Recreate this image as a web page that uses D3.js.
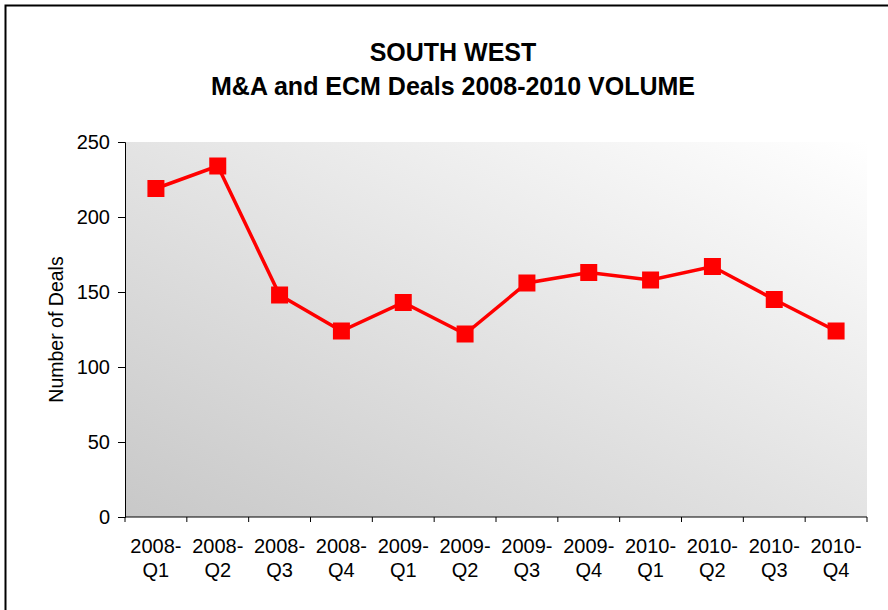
<!DOCTYPE html>
<html>
<head>
<meta charset="utf-8">
<script src="https://cdn.jsdelivr.net/npm/d3@7"></script>
<style>
  body { margin: 0; background: #fff; }
  text { font-family: "Liberation Sans", Arial, sans-serif; fill: #000; }
</style>
</head>
<body>
<div id="chart-area"></div>
<script>
var quarters = ["2008-Q1", "2008-Q2", "2008-Q3", "2008-Q4",
                "2009-Q1", "2009-Q2", "2009-Q3", "2009-Q4",
                "2010-Q1", "2010-Q2", "2010-Q3", "2010-Q4"];
var deals = [219, 234, 148, 124, 143, 122, 156, 163, 158, 167, 145, 124];
var yTicks = [0, 50, 100, 150, 200, 250];

var W = 888, H = 610;
var margin = { top: 142, right: 21, bottom: 93, left: 125 },
    width = W - margin.left - margin.right,
    height = H - margin.top - margin.bottom;

var svg = d3.select("#chart-area")
    .append("svg")
    .attr("width", W)
    .attr("height", H);

// outer chart frame
svg.append("rect")
    .attr("x", 5.5).attr("y", 5.5)
    .attr("width", W + 20).attr("height", H + 20)
    .attr("fill", "none")
    .attr("stroke", "#000")
    .attr("stroke-width", 2);

var grad = svg.append("defs").append("linearGradient")
    .attr("id", "bg")
    .attr("x1", 0).attr("y1", 1)
    .attr("x2", 1).attr("y2", 0);
grad.append("stop").attr("offset", "0%").attr("stop-color", "#c8c8c8");
grad.append("stop").attr("offset", "100%").attr("stop-color", "#ffffff");

// title
var tx = 453;
var title = svg.append("text")
    .attr("text-anchor", "middle")
    .style("font-weight", "bold")
    .style("font-size", "25px");
title.append("tspan").attr("x", tx).attr("y", 61).text("SOUTH WEST");
title.append("tspan").attr("x", tx).attr("y", 95).text("M&A and ECM Deals 2008-2010 VOLUME");

var g = svg.append("g")
    .attr("transform", "translate(" + margin.left + "," + margin.top + ")");

g.append("rect")
    .attr("width", width)
    .attr("height", height)
    .attr("fill", "url(#bg)");

var x = d3.scaleBand()
    .domain(quarters)
    .range([0, width]);

var y = d3.scaleLinear()
    .domain([0, 250])
    .range([height, 0]);

// y axis
var yAxis = g.append("g")
    .call(d3.axisLeft(y).tickValues(yTicks).tickSize(7).tickPadding(8));
yAxis.select(".domain").attr("stroke", "#000");
yAxis.selectAll("text").style("font-size", "20px");

// x axis with ticks at band boundaries
var xAxis = g.append("g")
    .attr("transform", "translate(0," + height + ")");
xAxis.append("line")
    .attr("x1", 0).attr("x2", width)
    .attr("stroke", "#000");
xAxis.selectAll(".tick")
    .data(quarters.concat([null]))
    .enter().append("line")
    .attr("x1", (d, i) => i < quarters.length ? x(d) : width)
    .attr("x2", (d, i) => i < quarters.length ? x(d) : width)
    .attr("y1", 0).attr("y2", 5)
    .attr("stroke", "#000");

var lbl = xAxis.selectAll(".lbl")
    .data(quarters)
    .enter().append("text")
    .attr("text-anchor", "middle")
    .style("font-size", "20px");
lbl.append("tspan")
    .attr("x", d => x(d) + x.bandwidth() / 2)
    .attr("y", 36)
    .text(d => d.split("-")[0] + "-");
lbl.append("tspan")
    .attr("x", d => x(d) + x.bandwidth() / 2)
    .attr("y", 60)
    .text(d => d.split("-")[1]);

// y label
g.append("text")
    .attr("transform", "rotate(-90)")
    .attr("x", -height / 2)
    .attr("y", -62)
    .attr("text-anchor", "middle")
    .style("font-size", "19.5px")
    .text("Number of Deals");

var pts = quarters.map((q, i) => ({ q: q, v: deals[i] }));

g.append("path")
    .datum(pts)
    .attr("fill", "none")
    .attr("stroke", "#ff0000")
    .attr("stroke-width", 3.5)
    .attr("d", d3.line()
        .x(d => x(d.q) + x.bandwidth() / 2)
        .y(d => y(d.v)));

var s = 17;
g.selectAll(".pt")
    .data(pts)
    .enter().append("rect")
    .attr("x", d => x(d.q) + x.bandwidth() / 2 - s / 2)
    .attr("y", d => y(d.v) - s / 2)
    .attr("width", s)
    .attr("height", s)
    .attr("fill", "#ff0000");
</script>
</body>
</html>
